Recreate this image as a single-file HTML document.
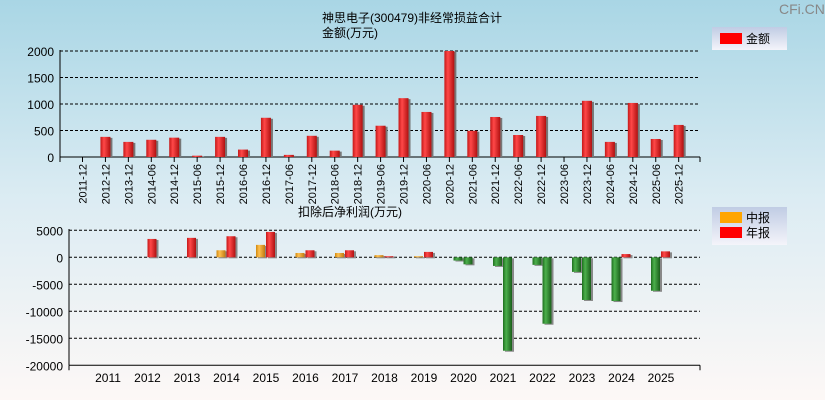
<!DOCTYPE html>
<html><head><meta charset="utf-8"><style>
body{margin:0;width:825px;height:400px;overflow:hidden}
svg{display:block;font-family:"Liberation Sans","Noto Sans CJK SC",sans-serif}
</style></head><body>
<svg id="c" width="825" height="400">
<defs>
<linearGradient id="bg" x1="0" y1="0" x2="0" y2="1"><stop offset="0" stop-color="#a9d6e5"/><stop offset="0.5" stop-color="#dcecf3"/><stop offset="1" stop-color="#fdf8f6"/></linearGradient>
<linearGradient id="gr" x1="0" x2="1"><stop offset="0" stop-color="#c41818"/><stop offset="0.35" stop-color="#ff4848"/><stop offset="1" stop-color="#b01010"/></linearGradient>
<linearGradient id="go" x1="0" x2="1"><stop offset="0" stop-color="#d08a10"/><stop offset="0.35" stop-color="#ffc050"/><stop offset="1" stop-color="#c07a10"/></linearGradient>
<linearGradient id="gg" x1="0" x2="1"><stop offset="0" stop-color="#1f6e1f"/><stop offset="0.35" stop-color="#4cb04c"/><stop offset="1" stop-color="#1a5e1a"/></linearGradient>
<linearGradient id="lg" x1="0" y1="0" x2="0" y2="1"><stop offset="0" stop-color="#c0cce4"/><stop offset="1" stop-color="#f4f4fa"/></linearGradient>
</defs>
<rect width="825" height="400" fill="url(#bg)"/>
<text x="779" y="14" font-size="14" fill="#888">CFi.CN</text>
<text x="412" y="22" font-size="12" text-anchor="middle">神思电子(300479)非经常损益合计</text>
<text x="350" y="37" font-size="12" text-anchor="middle">金额(万元)</text>
<g><rect x="712" y="27" width="75" height="23" fill="url(#lg)"/><rect x="720" y="33" width="22" height="11" fill="#ff0000"/><text x="746" y="43" font-size="12">金额</text></g>
<text x="350" y="216" font-size="12" text-anchor="middle">扣除后净利润(万元)</text>
<g><rect x="712" y="207" width="75" height="38" fill="url(#lg)"/><rect x="720" y="212" width="22" height="11" fill="#ffa500"/><text x="746" y="222" font-size="12">中报</text><rect x="720" y="227" width="22" height="11" fill="#ff0000"/><text x="746" y="237" font-size="12">年报</text></g>
<g id="top"></g><g id="bot"></g>
</svg>
<script>
const topCats=["2011-12","2012-12","2013-12","2014-06","2014-12","2015-06","2015-12","2016-06","2016-12","2017-06","2017-12","2018-06","2018-12","2019-06","2019-12","2020-06","2020-12","2021-06","2021-12","2022-06","2022-12","2023-06","2023-12","2024-06","2024-12","2025-06","2025-12"];
const topVals=[0,380,285,325,365,25,380,140,740,40,400,120,985,590,1110,850,2000,495,755,415,775,0,1060,285,1020,340,605];
const topTicks=[0,500,1000,1500,2000];
const years=["2011","2012","2013","2014","2015","2016","2017","2018","2019","2020","2021","2022","2023","2024","2025"];
const midVals=[null,null,null,1300,2300,800,800,400,200,-600,-1600,-1400,-2700,-8100,-6200];
const annVals=[null,3400,3600,3900,4700,1300,1300,200,1000,-1300,-17300,-12300,-7900,600,1100];
const botTicks=[5000,0,-5000,-10000,-15000,-20000];
const NS="http://www.w3.org/2000/svg";
function mk(p,t,a,txt){const e=document.createElementNS(NS,t);for(const k in a)e.setAttribute(k,a[k]);if(txt!==undefined)e.textContent=txt;p.appendChild(e);return e;}
// top chart
const T=document.getElementById('top');
const ty=v=>157-v*(106/2000);
const tx=i=>82.5+i*22.93;
topTicks.forEach(v=>{
 if(v>0)mk(T,'line',{x1:60,x2:700,y1:ty(v),y2:ty(v),stroke:'#000','stroke-dasharray':'3,2','stroke-width':1});
 const t=mk(T,'text',{x:54,y:ty(v)+5,'font-size':12,'text-anchor':'end'},v);
 
 
});
mk(T,'line',{x1:60,x2:60,y1:50,y2:157,stroke:'#000'});
mk(T,'line',{x1:60,x2:700,y1:157,y2:157,stroke:'#000'});
mk(T,'line',{x1:60,x2:60,y1:157,y2:162,stroke:'#000'});
mk(T,'line',{x1:700,x2:700,y1:157,y2:162,stroke:'#000'});
topCats.forEach((c,i)=>{
 const x=tx(i);
 mk(T,'line',{x1:x,x2:x,y1:157,y2:162,stroke:'#000'});
 const t=mk(T,'text',{x:0,y:0,'font-size':11,'text-anchor':'end',transform:`translate(${x+4},164) rotate(-90)`},c);
 
 
 const v=topVals[i];
 if(v>0){
  mk(T,'rect',{x:x-3,y:ty(v)+1,width:10,height:157-ty(v)-1,fill:'#777'});
  const r=mk(T,'rect',{x:x-5,y:ty(v),width:10,height:157-ty(v),fill:'url(#gr)'});
  
  
 }
});
// bottom chart
const B=document.getElementById('bot');
const by=v=>257.3-v*(27/5000);
const bx=i=>108+i*39.5;
botTicks.forEach(v=>{
 if(v>-20000)mk(B,'line',{x1:69,x2:700,y1:by(v),y2:by(v),stroke:'#000','stroke-dasharray':'3,2','stroke-width':1});
 const t=mk(B,'text',{x:63,y:by(v)+5,'font-size':12,'text-anchor':'end'},v);
 
 
});
mk(B,'line',{x1:69,x2:69,y1:229,y2:by(-20000),stroke:'#000'});
mk(B,'line',{x1:69,x2:700,y1:by(-20000),y2:by(-20000),stroke:'#000'});
mk(B,'line',{x1:69,x2:69,y1:by(-20000),y2:by(-20000)+5,stroke:'#000'});
mk(B,'line',{x1:700,x2:700,y1:by(-20000),y2:by(-20000)+5,stroke:'#000'});
function bar(x,v,fill,name){
 const y0=by(0),y1=by(v),top=Math.min(y0,y1),h=Math.abs(y1-y0);
 mk(B,'rect',{x:x+2,y:top+1,width:9,height:h,fill:'#888'});
 const r=mk(B,'rect',{x:x,y:top,width:9,height:h,fill:fill});
 
 
}
years.forEach((y,i)=>{
 const c=bx(i);
 const t=mk(B,'text',{x:c,y:382,'font-size':12,'text-anchor':'middle'},y);
 
 
 if(midVals[i]!==null)bar(c-10,midVals[i],midVals[i]<0?'url(#gg)':'url(#go)','mid-bar-'+y);
 if(annVals[i]!==null)bar(c,annVals[i],annVals[i]<0?'url(#gg)':'url(#gr)','annual-bar-'+y);
});
</script>
</body></html>
